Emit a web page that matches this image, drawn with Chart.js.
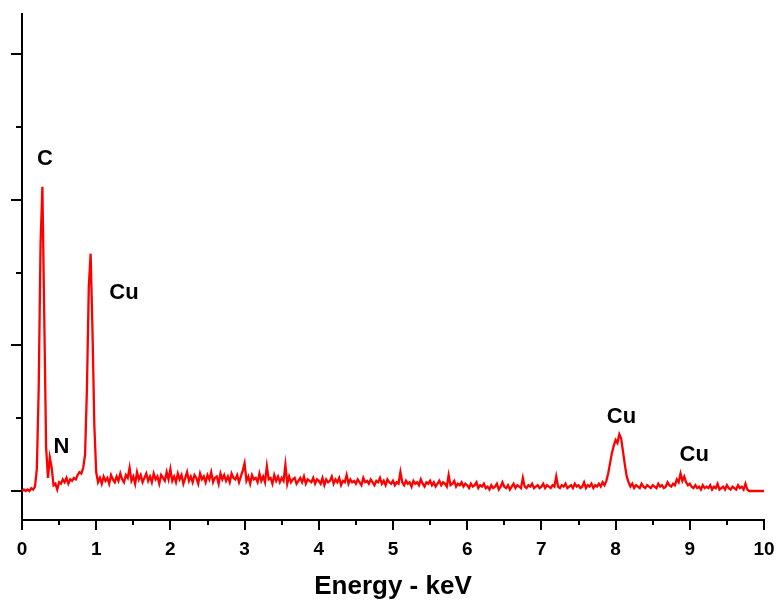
<!DOCTYPE html>
<html lang="en">
<head>
    <meta charset="UTF-8">
    <title>EDS Spectrum</title>
    <script src="https://cdn.jsdelivr.net/npm/chart.js"></script>
    <style>
        body {
            margin: 0;
            background-color: #ffffff;
        }

        .chart-box {
            width: 781px;
            height: 606px;
        }
    </style>
</head>
<body>
    <div class="chart-box">
        <canvas id="edsChart"></canvas>
    </div>

    <script>
        // Spectrum counts, one value per 0.025 keV channel, starting at 0 keV
        const channelWidth = 0.025;
        const counts = [
            0.0, 0.1, 0.0, 0.1, 0.0, 0.2, 0.1, 0.3, 1.5, 7.0,
            17.0, 20.9, 12.0, 3.0, 0.9, 2.3, 1.6, 0.4, 0.5, 0.1,
            0.6, 0.5, 0.8, 0.6, 0.9, 0.5, 0.8, 0.7, 0.9, 0.8,
            1.1, 1.3, 1.2, 1.6, 2.5, 7.0, 14.0, 16.3, 11.0, 4.5,
            1.3, 0.6, 0.9, 0.5, 1.0, 0.7, 0.9, 0.5, 1.1, 0.8,
            0.6, 1.0, 0.7, 1.2, 0.8, 0.6, 1.1, 0.9, 1.6, 0.7,
            1.0, 0.5, 1.3, 0.8, 1.1, 0.6, 0.9, 1.2, 0.7, 1.0,
            0.6, 1.2, 0.8, 1.0, 0.5, 1.1, 0.9, 0.7, 1.3, 0.8,
            1.5, 0.7, 1.0, 0.6, 1.2, 0.8, 1.1, 0.5, 0.9, 1.3,
            0.7, 1.0, 0.6, 1.1, 0.9, 0.5, 1.2, 0.8, 1.0, 0.6,
            1.1, 0.8, 1.3, 0.6, 0.9, 1.0, 0.5, 1.2, 0.8, 1.1,
            0.7, 1.0, 0.6, 1.2, 0.9, 0.8, 1.1, 0.6, 1.0, 1.4,
            1.9, 0.7, 1.0, 0.5, 1.1, 0.8, 0.9, 0.6, 1.2, 0.7,
            1.0, 0.6, 1.7, 0.8, 0.9, 0.5, 1.1, 0.7, 1.0, 0.6,
            0.9, 0.7, 1.8, 0.5, 1.0, 0.6, 0.8, 0.9, 0.5, 0.7,
            0.9, 0.6, 1.0, 0.5, 0.8, 0.7, 0.6, 0.9, 0.5, 0.8,
            0.7, 0.5, 0.9, 0.4, 0.8, 0.6, 0.7, 1.0, 0.5, 0.8,
            0.6, 0.9, 0.4, 0.7, 0.6, 1.1, 0.5, 0.8, 0.6, 0.7,
            0.5, 0.8, 0.6, 0.4, 0.9, 0.6, 0.7, 0.5, 0.8, 0.6,
            0.4, 0.7, 0.6, 0.9, 0.5, 0.7, 0.4, 0.8, 0.6, 0.5,
            0.7, 0.4, 0.6, 0.5, 1.3, 0.6, 0.4, 0.7, 0.5, 0.6,
            0.3, 0.7, 0.5, 0.6, 0.4, 0.8, 0.5, 0.3, 0.6, 0.5,
            0.7, 0.4, 0.6, 0.3, 0.5, 0.7, 0.4, 0.6, 0.5, 0.3,
            1.1, 0.4, 0.5, 0.7, 0.3, 0.5, 0.4, 0.6, 0.3, 0.5,
            0.4, 0.2, 0.5, 0.3, 0.4, 0.6, 0.2, 0.4, 0.3, 0.5,
            0.2, 0.3, 0.1, 0.4, 0.2, 0.3, 0.5, 0.1, 0.3, 0.6,
            0.3, 0.2, 0.4, 0.1, 0.3, 0.5, 0.2, 0.4, 0.3, 0.2,
            0.9, 0.3, 0.2, 0.4, 0.3, 0.5, 0.2, 0.3, 0.4, 0.2,
            0.3, 0.5, 0.2, 0.4, 0.3, 0.2, 0.4, 0.3, 1.0, 0.3,
            0.2, 0.4, 0.3, 0.5, 0.2, 0.3, 0.4, 0.2, 0.5, 0.3,
            0.4, 0.2, 0.3, 0.6, 0.2, 0.4, 0.3, 0.5, 0.2, 0.4,
            0.3, 0.5, 0.3, 0.6, 0.4, 0.7, 1.2, 1.9, 2.6, 3.1,
            3.5, 3.3, 3.9, 3.6, 2.7, 1.8, 1.0, 0.6, 0.3, 0.5,
            0.2, 0.4, 0.3, 0.2, 0.5, 0.3, 0.2, 0.4, 0.3, 0.2,
            0.4, 0.3, 0.2, 0.5, 0.3, 0.4, 0.2, 0.3, 0.6, 0.4,
            0.3, 0.5, 0.4, 0.8, 0.6, 1.2, 0.7, 1.0, 0.6, 0.4,
            0.5, 0.3, 0.2, 0.4, 0.2, 0.3, 0.1, 0.4, 0.2, 0.3,
            0.2, 0.4, 0.1, 0.3, 0.2, 0.5, 0.1, 0.2, 0.3, 0.1,
            0.4, 0.2, 0.1, 0.3, 0.2, 0.1, 0.4, 0.2, 0.3, 0.1,
            0.5, 0.1, 0.0, 0.0, 0.0, 0.0, 0.0, 0.0, 0.0, 0.0,
            0.0
        ];

        // Axis ticks
        const xTicks = [0, 1, 2, 3, 4, 5, 6, 7, 8, 9, 10];
        const xMinorTicks = [0.5, 1.5, 2.5, 3.5, 4.5, 5.5, 6.5, 7.5, 8.5, 9.5];
        const yTicks = [0, 10, 20, 30];
        const yMinorTicks = [5, 15, 25];

        // Peak labels (keV, counts)
        const peakNames = ['C', 'N', 'Cu', 'Cu', 'Cu'];
        const peakLabelX = [0.31, 0.53, 1.375, 8.08, 9.06];
        const peakLabelY = [22.8, 3.06, 13.6, 5.12, 2.47];

        const points = counts.map((c, i) => ({ x: i * channelWidth, y: c }));

        const fontFamily = '"Liberation Sans", Arial, sans-serif';

        // minor ticks + peak labels
        const extrasPlugin = {
            id: 'extras',
            afterDraw(chart) {
                const ctx = chart.ctx;
                const xs = chart.scales.x;
                const ys = chart.scales.y;
                const area = chart.chartArea;
                ctx.save();
                ctx.strokeStyle = '#000';
                ctx.lineWidth = 2;
                ctx.beginPath();
                xMinorTicks.forEach(v => {
                    const px = Math.round(xs.getPixelForValue(v));
                    ctx.moveTo(px, area.bottom);
                    ctx.lineTo(px, area.bottom + 5);
                });
                yMinorTicks.forEach(v => {
                    const py = Math.round(ys.getPixelForValue(v));
                    ctx.moveTo(area.left, py);
                    ctx.lineTo(area.left - 6, py);
                });
                ctx.stroke();

                ctx.fillStyle = '#000';
                ctx.font = 'bold 22px ' + fontFamily;
                ctx.textAlign = 'center';
                ctx.textBaseline = 'middle';
                peakNames.forEach((name, i) => {
                    ctx.fillText(name, xs.getPixelForValue(peakLabelX[i]), ys.getPixelForValue(peakLabelY[i]));
                });
                ctx.restore();
            }
        };

        const ctx = document.getElementById('edsChart').getContext('2d');

        const edsChart = new Chart(ctx, {
            type: 'line',
            data: {
                datasets: [{
                    data: points,
                    borderColor: '#ff0000',
                    borderWidth: 2.3,
                    pointRadius: 0,
                    tension: 0,
                    fill: false
                }]
            },
            options: {
                responsive: true,
                maintainAspectRatio: false,
                animation: false,
                layout: {
                    padding: { top: 14, right: 17, left: 0, bottom: 0 }
                },
                plugins: {
                    legend: { display: false },
                    tooltip: { enabled: false }
                },
                scales: {
                    x: {
                        type: 'linear',
                        min: 0,
                        max: 10,
                        afterBuildTicks: scale => {
                            scale.ticks = xTicks.map(v => ({ value: v }));
                        },
                        afterFit: scale => {
                            scale.height = 86;
                            scale.paddingLeft = 0;
                            scale.paddingRight = 0;
                        },
                        ticks: {
                            color: '#000',
                            padding: 8,
                            maxRotation: 0,
                            font: { family: fontFamily, size: 19, weight: 'bold' }
                        },
                        grid: {
                            drawOnChartArea: false,
                            drawTicks: true,
                            tickLength: 10,
                            color: '#000',
                            lineWidth: 2
                        },
                        border: { display: true, color: '#000', width: 2 },
                        title: {
                            display: true,
                            text: 'Energy - keV',
                            color: '#000',
                            padding: { top: 0, bottom: 4 },
                            font: { family: fontFamily, size: 26, weight: 'bold' }
                        }
                    },
                    y: {
                        type: 'linear',
                        min: -1.99,
                        max: 32.76,
                        afterBuildTicks: scale => {
                            scale.ticks = yTicks.map(v => ({ value: v }));
                        },
                        afterFit: scale => {
                            scale.width = 22;
                        },
                        ticks: { display: false },
                        grid: {
                            drawOnChartArea: false,
                            drawTicks: true,
                            tickLength: 11,
                            color: '#000',
                            lineWidth: 2
                        },
                        border: { display: true, color: '#000', width: 2 }
                    }
                }
            },
            plugins: [extrasPlugin]
        });
    </script>
</body>
</html>
